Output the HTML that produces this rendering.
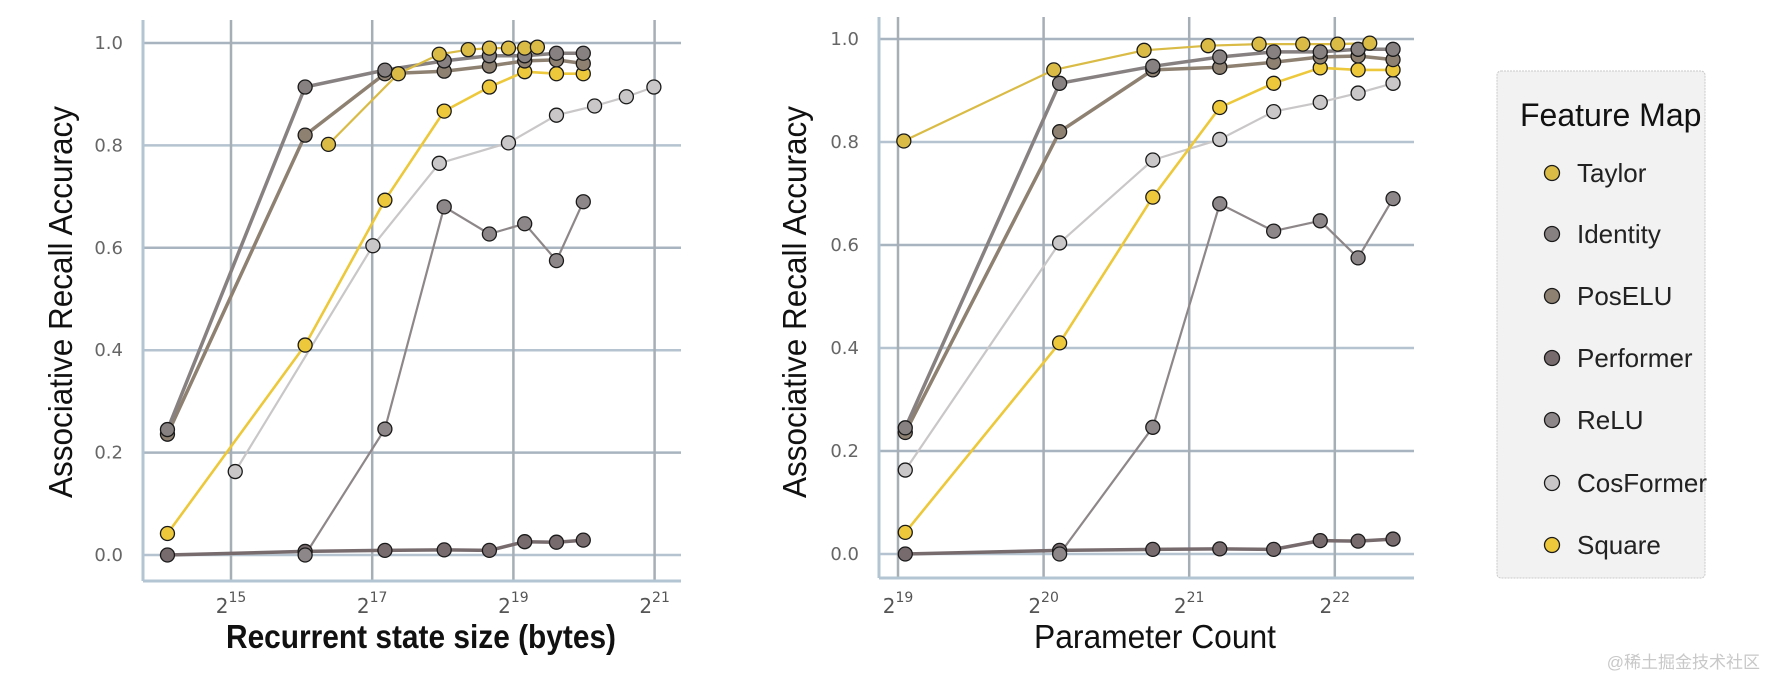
<!DOCTYPE html>
<html><head><meta charset="utf-8"><style>
html,body{margin:0;padding:0;background:#fff;}
svg{display:block;font-family:"Liberation Sans",sans-serif;}
</style></head><body>
<svg id="fig" width="1766" height="678" viewBox="0 0 1766 678">
<g id="p1"></g>
<g id="p2"></g>
<g id="legend"></g>
<text x="1760" y="668" text-anchor="end" font-size="17" fill="#c8c8c8" font-family="'Liberation Sans','Noto Sans CJK SC',sans-serif">@稀土掘金技术社区</text>
</svg>
<script>
const seriesNames = ["Taylor","Identity","PosELU","Performer","ReLU","CosFormer","Square"];
const yTicks = [0.0,0.2,0.4,0.6,0.8,1.0];
const yTickLabels = ["0.0","0.2","0.4","0.6","0.8","1.0"];
const leftXTicks = [15,17,19,21];
const rightXTicks = [19,20,21,22];
// values (accuracy)
const taylorVals = [0.802,0.94,0.978,0.987,0.99,0.99,0.99,0.992];
const identityVals = [0.245,0.914,0.947,0.965,0.975,0.975,0.98,0.98];
const poseluVals = [0.236,0.82,0.94,0.945,0.955,0.965,0.967,0.96];
const performerVals = [0.0,0.007,0.009,0.01,0.009,0.026,0.025,0.029];
const reluVals = [0.0,0.246,0.68,0.627,0.647,0.575,0.69];
const cosformerVals = [0.163,0.604,0.765,0.805,0.859,0.877,0.895,0.914];
const squareVals = [0.042,0.41,0.693,0.867,0.914,0.944,0.94,0.94];
// x positions as log2 exponents
const leftMainX = [14.1,16.05,17.18,18.02,18.66,19.16,19.61,19.99];
const leftTaylorX = [16.38,17.37,17.95,18.36,18.66,18.93,19.16,19.34];
const leftCosX = [15.06,17.01,17.95,18.93,19.61,20.15,20.6,20.99];
const leftReluX = [16.05,17.18,18.02,18.66,19.16,19.61,19.99];
const rightMainX = [19.05,20.11,20.75,21.21,21.58,21.9,22.16,22.4];
const rightTaylorX = [19.04,20.07,20.69,21.13,21.48,21.78,22.02,22.24];
const rightReluX = [20.11,20.75,21.21,21.58,21.9,22.16,22.4];

const styles = {
 Taylor:{c:"#d9bb45",w:2.2},
 Identity:{c:"#878182",w:3.5},
 PosELU:{c:"#8e8172",w:3.5},
 Performer:{c:"#776b6e",w:3.5},
 ReLU:{c:"#8e8789",w:2.2},
 CosFormer:{c:"#c9c7c8",w:2.2},
 Square:{c:"#ecc83a",w:2.6}
};
const NS="http://www.w3.org/2000/svg";
function mk(tag,attrs,parent){const e=document.createElementNS(NS,tag);for(const k in attrs)e.setAttribute(k,attrs[k]);parent.appendChild(e);return e;}

function drawPlot(g,cfg,seriesList){
 const X=e=>cfg.x0+(e-cfg.e0)*cfg.pp;
 const Y=v=>cfg.yZero-v*(cfg.yZero-cfg.yOne);
 yTicks.forEach((t,i)=>{
  const l=mk("line",{x1:cfg.left,x2:cfg.right,y1:Y(t),y2:Y(t),stroke:i%2?"#a8b4bf":"#b4c3cf","stroke-width":2.5},g);
  
  
  const tx=mk("text",{x:cfg.left-20,y:Y(t)+6,"text-anchor":"end","font-size":18,fill:"#666","font-family":"'DejaVu Sans',sans-serif"},g);
  tx.textContent=yTickLabels[i];
  
  
 });
 cfg.xt.forEach(t=>{
  const l=mk("line",{x1:X(t),x2:X(t),y1:cfg.top,y2:cfg.bottom,stroke:"#a6aeb6","stroke-width":2.5},g);
  
  
  const tx=mk("text",{x:X(t),y:613,"text-anchor":"middle","font-size":20,fill:"#555","font-family":"'DejaVu Sans',sans-serif"},g);
  
  
  const a=mk("tspan",{},tx);a.textContent="2";
  const b=mk("tspan",{dy:-11,"font-size":14},tx);b.textContent=String(t);
 });
 const s1=mk("line",{x1:cfg.left,x2:cfg.left,y1:cfg.top,y2:cfg.bottom,stroke:"#b3c5d2","stroke-width":3},g);
 
 
 const s2=mk("line",{x1:cfg.left,x2:cfg.right,y1:cfg.bottom,y2:cfg.bottom,stroke:"#b3c5d2","stroke-width":3},g);
 
 
 seriesList.forEach(s=>{
  const st=styles[s.name];
  const pts=s.xs.map((e,i)=>X(e).toFixed(1)+","+Y(s.vals[i]).toFixed(1)).join(" ");
  const pl=mk("polyline",{points:pts,fill:"none",stroke:st.c,"stroke-width":st.w,"stroke-linejoin":"round"},g);
  
  
 });
 seriesList.forEach(s=>{
  const st=styles[s.name];
  s.xs.forEach((e,i)=>{
   const c=mk("circle",{cx:X(e),cy:Y(s.vals[i]),r:7,fill:st.c,stroke:"#1a1a1a","stroke-width":1.3},g);
   
   
  });
 });
 const xt=mk("text",{x:cfg.titleX,y:648,"text-anchor":"middle","font-size":33,fill:"#111",textLength:cfg.titleLen,lengthAdjust:"spacingAndGlyphs","font-weight":cfg.bold?"bold":"normal"},g);
 xt.textContent=cfg.title;
 
 
 const yt=mk("text",{x:0,y:0,transform:`translate(${cfg.yTitleX},302) rotate(-90)`,"text-anchor":"middle","font-size":33,fill:"#111",textLength:392,lengthAdjust:"spacingAndGlyphs"},g);
 yt.textContent="Associative Recall Accuracy";
 
 
}

drawPlot(document.getElementById("p1"),
 {x0:231,e0:15,pp:70.6,yZero:555,yOne:43,left:143,right:681,top:20,bottom:581,xt:leftXTicks,
  title:"Recurrent state size (bytes)",titleX:421,titleLen:390,bold:true,yTitleX:72},
 [
  {name:"Performer",xs:leftMainX,vals:performerVals},
  {name:"ReLU",xs:leftReluX,vals:reluVals},
  {name:"CosFormer",xs:leftCosX,vals:cosformerVals},
  {name:"Square",xs:leftMainX,vals:squareVals},
  {name:"PosELU",xs:leftMainX,vals:poseluVals},
  {name:"Identity",xs:leftMainX,vals:identityVals},
  {name:"Taylor",xs:leftTaylorX,vals:taylorVals}
 ]);
drawPlot(document.getElementById("p2"),
 {x0:898,e0:19,pp:145.6,yZero:554,yOne:39,left:879,right:1414,top:17,bottom:578,xt:rightXTicks,
  title:"Parameter Count",titleX:1155,titleLen:242,bold:false,yTitleX:806},
 [
  {name:"Performer",xs:rightMainX,vals:performerVals},
  {name:"ReLU",xs:rightReluX,vals:reluVals},
  {name:"CosFormer",xs:rightMainX,vals:cosformerVals},
  {name:"Square",xs:rightMainX,vals:squareVals},
  {name:"PosELU",xs:rightMainX,vals:poseluVals},
  {name:"Identity",xs:rightMainX,vals:identityVals},
  {name:"Taylor",xs:rightTaylorX,vals:taylorVals}
 ]);

const lg=document.getElementById("legend");
const box=mk("rect",{x:1497,y:71,width:208,height:507,rx:4,fill:"#f2f2f2",stroke:"#c9c9c9","stroke-width":1,"stroke-dasharray":"2,1"},lg);


const lt=mk("text",{x:1520,y:126,"font-size":32,fill:"#111"},lg);
lt.textContent="Feature Map";


const legY=[173,234,296,358,420,483,545];
seriesNames.forEach((n,i)=>{
 const c=mk("circle",{cx:1552,cy:legY[i],r:7.5,fill:styles[n].c,stroke:"#1a1a1a","stroke-width":1.3},lg);
 
 
 const t=mk("text",{x:1577,y:legY[i]+9,"font-size":26,fill:"#222"},lg);
 t.textContent=n;
 
 
});
</script>
</body></html>
